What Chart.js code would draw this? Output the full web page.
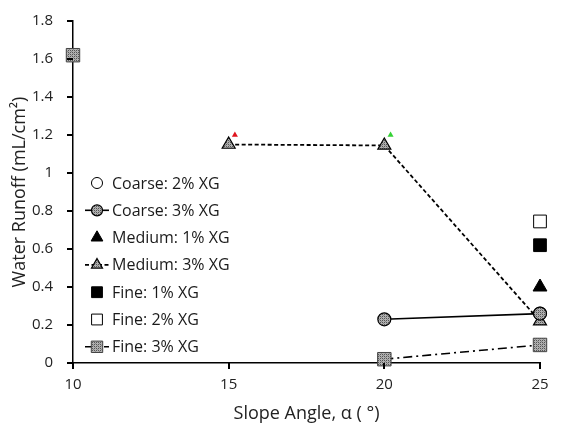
<!DOCTYPE html>
<html>
<head>
<meta charset="utf-8">
<script src="https://cdn.jsdelivr.net/npm/chart.js@4.4.0/dist/chart.umd.min.js"></script>
<style>
  html, body { margin: 0; padding: 0; background: #fff; }
  #wrap { width: 579px; height: 429px; }
</style>
</head>
<body>
<div id="wrap"><canvas id="runoff"></canvas></div>
<script>
// slope angles (deg) and runoff values (mL/cm2) per soil/XG mix
var coarse2 = [{ x: 25, y: 0.26 }];
var coarse3 = [{ x: 20, y: 0.23 }, { x: 25, y: 0.26 }];
var medium1 = [{ x: 25, y: 0.40 }];
var medium3 = [{ x: 15, y: 1.15 }, { x: 20, y: 1.145 }, { x: 25, y: 0.22 }];
var fine1 = [{ x: 25, y: 0.62 }];
var fine2 = [{ x: 25, y: 0.745 }];
var fine3 = [{ x: 10, y: 1.62 }, { x: 15, y: null }, { x: 20, y: 0.02 }, { x: 25, y: 0.095 }];
var redMark = [{ x: 15.2, y: 1.2 }];
var greenMark = [{ x: 20.2, y: 1.2 }];
var yTicks = [0, 0.2, 0.4, 0.6, 0.8, 1, 1.2, 1.4, 1.6, 1.8];
var xTicks = [10, 15, 20, 25];

// speckled grey fill used for the 3% XG markers
function speckle() {
    var c = document.createElement('canvas');
    c.width = 4; c.height = 4;
    var g = c.getContext('2d');
    g.fillStyle = '#b0b0b0';
    g.fillRect(0, 0, 4, 4);
    g.fillStyle = '#555';
    g.fillRect(0, 0, 1, 1); g.fillRect(2, 2, 1, 1);
    g.fillRect(2, 0, 1, 1); g.fillRect(0, 2, 1, 1);
    g.fillStyle = '#888';
    g.fillRect(1, 1, 1, 1); g.fillRect(3, 3, 1, 1);
    return g.createPattern(c, 'repeat');
}
var grey = speckle();

var FONT = "'Open Sans', 'DejaVu Sans', sans-serif";

var datasets = [
    { label: 'Coarse: 2% XG', data: coarse2, showLine: false, order: 1,
      pointStyle: 'circle', pointRadius: 6.5, backgroundColor: '#fff', borderColor: '#000', pointBorderWidth: 1 },
    { label: 'Coarse: 3% XG', data: coarse3, showLine: true, borderWidth: 1.6,
      pointStyle: 'circle', pointRadius: 6.5, backgroundColor: grey, borderColor: '#000', pointBorderWidth: 1.2 },
    { label: 'Medium: 1% XG', data: medium1, showLine: false,
      pointStyle: 'triangle', pointRadius: 8, backgroundColor: '#000', borderColor: '#000', pointBorderWidth: 1 },
    { label: 'Medium: 3% XG', data: medium3, showLine: true, borderWidth: 1.8, borderDash: [4, 2.5],
      pointStyle: 'triangle', pointRadius: 7.5, backgroundColor: grey, borderColor: '#000', pointBorderWidth: 1.2 },
    { label: 'Fine: 1% XG', data: fine1, showLine: false,
      pointStyle: 'rect', pointRadius: 9, backgroundColor: '#000', borderColor: '#000', pointBorderWidth: 1 },
    { label: 'Fine: 2% XG', data: fine2, showLine: false,
      pointStyle: 'rect', pointRadius: 9, backgroundColor: '#fff', borderColor: '#000', pointBorderWidth: 1 },
    { label: 'Fine: 3% XG', data: fine3, showLine: true, spanGaps: false, borderWidth: 1.6, borderDash: [9, 4, 2, 4],
      pointStyle: 'rect', pointRadius: 9.5, backgroundColor: grey, borderColor: '#000',
      pointBorderColor: '#444', pointBorderWidth: 1 },
    { label: '', data: redMark, showLine: false, noLegend: true,
      pointStyle: 'triangle', pointRadius: 3.5, backgroundColor: '#e0141e', borderColor: '#e0141e', pointBorderWidth: 0 },
    { label: '', data: greenMark, showLine: false, noLegend: true,
      pointStyle: 'triangle', pointRadius: 3.5, backgroundColor: '#35d235', borderColor: '#35d235', pointBorderWidth: 0 }
];
datasets.forEach(function (d) { d.fill = false; d.clip = false; d.pointHoverRadius = d.pointRadius; });

// legend drawn inside the plot area, on the left
var insideLegend = {
    id: 'insideLegend',
    afterDraw: function (chart) {
        var ctx = chart.ctx;
        var x0 = 97, y0 = 183, gap = 27.3;
        ctx.save();
        ctx.font = "16px " + FONT;
        ctx.textBaseline = 'middle';
        ctx.fillStyle = '#1a1a1a';
        var i = 0;
        chart.data.datasets.forEach(function (d) {
            if (d.noLegend) return;
            var y = y0 + i * gap;
            if (d.showLine) {
                ctx.save();
                ctx.strokeStyle = '#000';
                ctx.lineWidth = d.borderWidth;
                ctx.setLineDash(d.borderDash || []);
                ctx.beginPath();
                ctx.moveTo(x0 - 12, y);
                ctx.lineTo(x0 + 12, y);
                ctx.stroke();
                ctx.restore();
            }
            ctx.save();
            ctx.fillStyle = d.backgroundColor;
            ctx.strokeStyle = d.pointBorderColor || d.borderColor;
            ctx.lineWidth = d.pointBorderWidth;
            Chart.helpers.drawPoint(ctx, { pointStyle: d.pointStyle, radius: d.pointRadius * 0.85, borderWidth: d.pointBorderWidth }, x0, y);
            ctx.restore();
            ctx.fillText(d.label, x0 + 15, y + 1);
            i++;
        });
        ctx.restore();
    }
};

// short outward tick marks on both axes
var axisTicks = {
    id: 'axisTicks',
    afterDraw: function (chart) {
        var ctx = chart.ctx, a = chart.chartArea;
        var xs = chart.scales.x, ys = chart.scales.y;
        ctx.save();
        ctx.setLineDash([]);
        ctx.fillStyle = '#000';
        xTicks.forEach(function (v) {
            var px = Math.round(xs.getPixelForValue(v));
            ctx.fillRect(px - 1, a.bottom, 2, 6);
        });
        yTicks.forEach(function (v) {
            var py = Math.round(ys.getPixelForValue(v));
            ctx.fillRect(a.left - 6, py - 1, 6, 2);
        });
        ctx.restore();
    }
};

new Chart(document.getElementById('runoff'), {
    type: 'scatter',
    data: { datasets: datasets },
    plugins: [axisTicks, insideLegend],
    options: {
        responsive: true,
        maintainAspectRatio: false,
        animation: false,
        layout: { padding: { left: 5, right: 39, top: 17, bottom: 0 } },
        plugins: { legend: { display: false }, tooltip: { enabled: false } },
        scales: {
            x: {
                type: 'linear', min: 10, max: 25,
                afterBuildTicks: function (s) { s.ticks = xTicks.map(function (v) { return { value: v }; }); },
                afterFit: function (s) { s.height = 66; },
                border: { color: '#000', width: 1.5 },
                grid: { display: false },
                ticks: { color: '#222', font: { family: FONT, size: 15 }, padding: 5, maxRotation: 0 },
                title: { display: true, text: 'Slope Angle, α ( °)', color: '#222', font: { family: FONT, size: 18 }, padding: { top: 1 } }
            },
            y: {
                type: 'linear', min: 0, max: 1.8,
                afterBuildTicks: function (s) { s.ticks = yTicks.map(function (v) { return { value: v }; }); },
                afterFit: function (s) { s.width = 68; },
                border: { color: '#000', width: 1.5 },
                grid: { display: false },
                ticks: { color: '#222', font: { family: FONT, size: 15 }, padding: 12,
                         callback: function (v) { return String(+v.toFixed(1)); } },
                title: { display: true, text: 'Water Runoff (mL/cm²)', color: '#222', font: { family: FONT, size: 18 }, padding: { bottom: 0 } }
            }
        }
    }
});
</script>
</body>
</html>
